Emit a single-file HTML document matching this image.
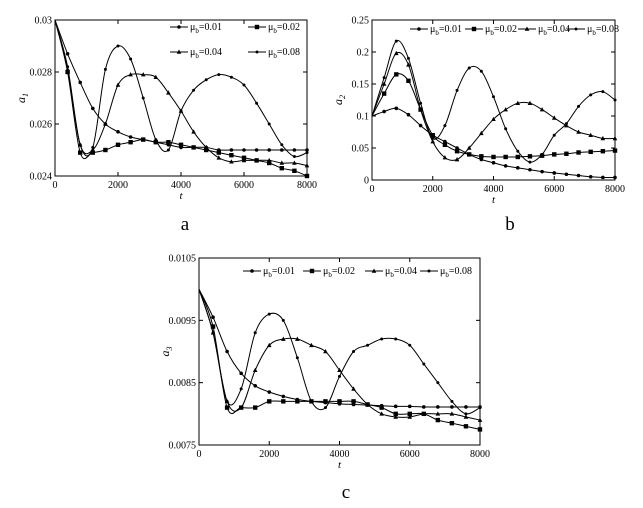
<!DOCTYPE html>
<html><head><meta charset="utf-8"><style>
body{margin:0;background:#fff;}
svg{display:block;font-family:"Liberation Serif",serif;}
</style></head><body>
<svg id="s" width="643" height="508">
<text x="185" y="230" font-size="19" text-anchor="middle">a</text>
<text x="510" y="230" font-size="19" text-anchor="middle">b</text>
<text x="346" y="498" font-size="19" text-anchor="middle">c</text>
</svg>
<script>
const tVals=[0,400,800,1200,1600,2000,2400,2800,3200,3600,4000,4400,4800,5200,5600,6000,6400,6800,7200,7600,8000];
const xTicks=[0,2000,4000,6000,8000];
const legendLabels=["0.01","0.02","0.04","0.08"];
const aS1=[0.0300,0.0282,0.0252,0.0251,0.0281,0.0290,0.0285,0.0270,0.0254,0.0250,0.0265,0.0273,0.0277,0.0279,0.0278,0.0275,0.0268,0.0260,0.0252,0.02475,0.0249];
const aS2=[0.030,0.0281,0.0252,0.0250,0.0260,0.0275,0.0279,0.0279,0.0278,0.0272,0.0265,0.0257,0.0251,0.0247,0.02455,0.0246,0.0246,0.0246,0.0245,0.0245,0.0244];
const aS3=[0.030,0.0280,0.0249,0.0249,0.0250,0.0252,0.0253,0.0254,0.0253,0.0253,0.0252,0.0251,0.0250,0.0249,0.0248,0.0247,0.0246,0.0245,0.0243,0.0242,0.0240];
const aS4=[0.030,0.0287,0.0276,0.0266,0.0260,0.0257,0.0255,0.0254,0.0253,0.0252,0.0251,0.0251,0.0251,0.0250,0.0250,0.0250,0.0250,0.0250,0.0250,0.0250,0.0250];
const aTicks=[0.024,0.026,0.028,0.03];
const bS1=[0.10,0.16,0.217,0.19,0.12,0.065,0.085,0.14,0.175,0.17,0.13,0.08,0.045,0.028,0.04,0.07,0.088,0.115,0.133,0.138,0.125];
const bS2=[0.10,0.15,0.198,0.18,0.11,0.06,0.035,0.032,0.05,0.073,0.095,0.11,0.12,0.12,0.11,0.097,0.085,0.075,0.07,0.065,0.065];
const bS3=[0.10,0.135,0.165,0.155,0.11,0.07,0.055,0.045,0.04,0.037,0.036,0.036,0.036,0.037,0.038,0.04,0.041,0.043,0.044,0.045,0.046];
const bS4=[0.10,0.107,0.112,0.102,0.085,0.07,0.06,0.05,0.04,0.032,0.027,0.022,0.019,0.016,0.013,0.011,0.009,0.007,0.005,0.004,0.004];
const bTicks=[0,0.05,0.1,0.15,0.2,0.25];
const cS1=[0.0100,0.0093,0.0082,0.0084,0.0093,0.0096,0.0095,0.0089,0.0082,0.0081,0.0086,0.0090,0.0091,0.0092,0.0092,0.0091,0.0088,0.0085,0.0082,0.0080,0.0081];
const cS2=[0.0100,0.0093,0.0082,0.0081,0.0087,0.0091,0.0092,0.0092,0.0091,0.0090,0.0087,0.0084,0.00815,0.0080,0.00795,0.00795,0.0080,0.0080,0.0080,0.00795,0.0079];
const cS3=[0.0100,0.0094,0.0081,0.0081,0.0081,0.0082,0.0082,0.0082,0.0082,0.0082,0.0082,0.0082,0.00815,0.0081,0.0080,0.0080,0.0080,0.0079,0.00785,0.0078,0.00775];
const cS4=[0.0100,0.00955,0.0090,0.00865,0.00845,0.00835,0.00828,0.00823,0.0082,0.00818,0.00816,0.00815,0.00814,0.00813,0.00812,0.00812,0.00811,0.00811,0.00811,0.00811,0.00811];
const cTicks=[0.0075,0.0085,0.0095,0.0105];

const NS="http://www.w3.org/2000/svg";
const svg=document.getElementById('s');
function mk(tag,attrs,parent){const e=document.createElementNS(NS,tag);for(const k in attrs)e.setAttribute(k,attrs[k]);(parent||svg).appendChild(e);return e;}
function marker(g,type,x,y){
  let e;
  if(type===0){e=mk('circle',{cx:x,cy:y,r:1.8,fill:'#000'},g);}
  else if(type===1){e=mk('rect',{x:x-2.2,y:y-2.2,width:4.4,height:4.4,fill:'#000'},g);}
  else if(type===2){e=mk('polygon',{points:`${x},${y-2.5} ${x-2.3},${y+1.8} ${x+2.3},${y+1.8}`,fill:'#000'},g);}
  else {e=mk('circle',{cx:x,cy:y,r:1.5,fill:'#000'},g);}
  
  
}
function smooth(pts){
  let d=`M${pts[0][0]},${pts[0][1]}`;
  for(let i=0;i<pts.length-1;i++){
    const p0=pts[Math.max(0,i-1)],p1=pts[i],p2=pts[i+1],p3=pts[Math.min(pts.length-1,i+2)];
    d+=` C${p1[0]+(p2[0]-p0[0])/6},${p1[1]+(p2[1]-p0[1])/6} ${p2[0]-(p3[0]-p1[0])/6},${p2[1]-(p3[1]-p1[1])/6} ${p2[0]},${p2[1]}`;
  }
  return d;
}
function panel(id,L,R,T,B,ymin,ymax,yt,series,sub,legendRows,legPos){
  const g=mk('g',{});
  
  
  const X=v=>L+(v-0)/8000*(R-L);
  const Y=v=>B-(v-ymin)/(ymax-ymin)*(B-T);
  const fr=mk('rect',{x:L,y:T,width:R-L,height:B-T,fill:'none',stroke:'#000','stroke-width':1},g);
  
  
  xTicks.forEach(v=>{
    const x=X(v);
    mk('line',{x1:x,y1:B,x2:x,y2:B-4,stroke:'#000'},g);
    mk('line',{x1:x,y1:T,x2:x,y2:T+4,stroke:'#000'},g);
    const t=mk('text',{x:x,y:B+12,'font-size':10,'text-anchor':'middle'},g);
    t.textContent=v;
    
    
  });
  yt.forEach(v=>{
    const y=Y(v);
    mk('line',{x1:L,y1:y,x2:L+4,y2:y,stroke:'#000'},g);
    mk('line',{x1:R,y1:y,x2:R-4,y2:y,stroke:'#000'},g);
    const t=mk('text',{x:L-3,y:y+3.5,'font-size':10,'text-anchor':'end'},g);
    t.textContent=String(v);
    
    
  });
  const xt=mk('text',{x:(L+R)/2,y:B+23,'font-size':11,'font-style':'italic','text-anchor':'middle'},g);
  xt.textContent='t';
  
  
  const yl=mk('text',{x:0,y:0,'font-size':12,'font-style':'italic',transform:`translate(${L-30},${(T+B)/2}) rotate(-90)`,'text-anchor':'middle'},g);
  yl.innerHTML='a<tspan font-size="8" dy="3">'+sub+'</tspan>';
  
  
  series.forEach((s,si)=>{
    const pts=s.map((v,i)=>[X(tVals[i]),Y(v)]);
    const p=mk('path',{d:smooth(pts),fill:'none',stroke:'#000','stroke-width':1},g);
    
    
    pts.forEach((q,i)=>{if(i>0)marker(g,3-si,q[0],q[1]);});
  });
  legPos.forEach((lp,i)=>{
    const lg=mk('g',{},g);
    
    
    mk('line',{x1:lp[0],y1:lp[1],x2:lp[0]+18,y2:lp[1],stroke:'#000'},lg);
    marker(lg,i,lp[0]+9,lp[1]);
    const t=mk('text',{x:lp[0]+20,y:lp[1]+3,'font-size':10},lg);
    t.innerHTML='μ<tspan font-size="7" dy="3">b</tspan><tspan dy="-3">='+legendLabels[i]+'</tspan>';
  });
}
panel('a',55,307,20,176,0.024,0.030,aTicks,[aS1,aS2,aS3,aS4],'1',2,[[170,27],[248,27],[170,52],[248,52]]);
panel('b',372,615,20,180,0,0.25,bTicks,[bS1,bS2,bS3,bS4],'2',1,[[410,29],[465,29],[518,29],[567,29]]);
panel('c',199,480,258,445,0.0075,0.0105,cTicks,[cS1,cS2,cS3,cS4],'3',1,[[243,271],[303,271],[365,271],[420,271]]);
</script>
</body></html>
